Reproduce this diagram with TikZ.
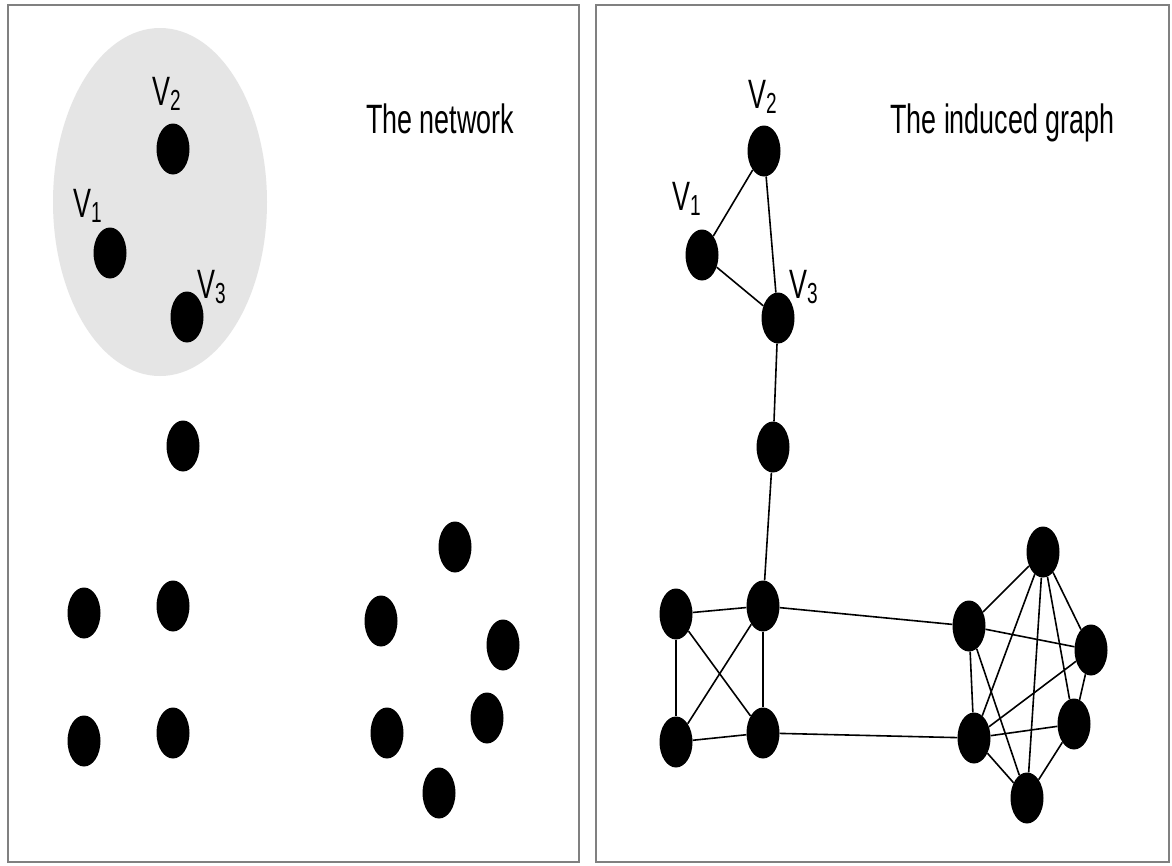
\documentclass[tikz,border=0pt]{standalone}
\usepackage{fontspec}
\setmainfont[FakeStretch=0.656]{Liberation Sans}
\usetikzlibrary{shapes.geometric}
\newcommand{\vlab}[1]{V\raisebox{-5pt}{\fontsize{29}{30}\selectfont #1}}
\tikzset{
  vert/.style={ellipse, fill=black, draw=none, minimum width=33pt, minimum height=51pt, inner sep=0pt},
  panel/.style={draw=black!50, line width=2.6pt},
  edge/.style={line width=1.6pt, black},
  lab/.style={anchor=base west, inner sep=0pt, font=\fontsize{41}{46}\selectfont, text=black},
}
\begin{document}
\begin{tikzpicture}[x=1pt,y=-1pt]
\useasboundingbox (0,0) rectangle (1172,865);
\fill[white] (0,0) rectangle (1172,865);
% panels
\draw[panel] (8,5) rectangle (579,862);
\draw[panel] (596,5) rectangle (1169,862);
% grey region
\fill[black!10] (160,202) ellipse [x radius=107, y radius=174];
% left panel nodes
\node[vert] (l2) at (173,149) {};
\node[vert] (l1) at (110,253) {};
\node[vert] (l3) at (187,317) {};
\node[vert] (l4) at (183,446) {};
\node[vert] (la) at (84,613) {};
\node[vert] (lb) at (173,606) {};
\node[vert] (lc) at (84,741) {};
\node[vert] (ld) at (173,733) {};
\node[vert] (lf) at (455,547) {};
\node[vert] (le) at (381,621) {};
\node[vert] (lg) at (503,645) {};
\node[vert] (lh) at (487,718) {};
\node[vert] (li) at (387,733) {};
\node[vert] (lj) at (439,793) {};
% left labels
\node[lab] (tl2) at (152,105) {\vlab{2}};
\node[lab] (tl1) at (73,217) {\vlab{1}};
\node[lab] (tl3) at (197,298) {\vlab{3}};
\node[lab] (tnet) at (366,133) {The network};
% right panel nodes
\node[vert] (r2) at (764,151) {};
\node[vert] (r1) at (702,255) {};
\node[vert] (r3) at (778,318) {};
\node[vert] (r4) at (773,447) {};
\node[vert] (ra) at (676,614) {};
\node[vert] (rb) at (763,606) {};
\node[vert] (rc) at (676,742) {};
\node[vert] (rd) at (763,733) {};
\node[vert] (rf) at (1043,552) {};
\node[vert] (re) at (969,626) {};
\node[vert] (rg) at (1091,650) {};
\node[vert] (rh) at (1074,724) {};
\node[vert] (ri) at (974,738) {};
\node[vert] (rj) at (1027,798) {};
% right labels
\node[lab] (tr2) at (748,108) {\vlab{2}};
\node[lab] (tr1) at (672,210) {\vlab{1}};
\node[lab] (tr3) at (789,298) {\vlab{3}};
\node[lab] (tind) at (890,133) {The induced graph};
% right edges
\draw[edge] (r2) -- (r1);
\draw[edge] (r2) -- (r3);
\draw[edge] (r1) -- (r3);
\draw[edge] (r3) -- (r4);
\draw[edge] (r4) -- (rb);
\draw[edge] (ra) -- (rb);
\draw[edge] (ra) -- (rc);
\draw[edge] (ra) -- (rd);
\draw[edge] (rb) -- (rc);
\draw[edge] (rb) -- (rd);
\draw[edge] (rc) -- (rd);
\draw[edge] (rb) -- (re);
\draw[edge] (rd) -- (ri);
\draw[edge] (rf) -- (re);
\draw[edge] (rf) -- (rg);
\draw[edge] (rf) -- (ri);
\draw[edge] (rf) -- (rj);
\draw[edge] (rf) -- (rh);
\draw[edge] (re) -- (rg);
\draw[edge] (re) -- (ri);
\draw[edge] (re) -- (rj);
\draw[edge] (rg) -- (ri);
\draw[edge] (rg) -- (rh);
\draw[edge] (ri) -- (rh);
\draw[edge] (ri) -- (rj);
\draw[edge] (rh) -- (rj);
\end{tikzpicture}
\end{document}
